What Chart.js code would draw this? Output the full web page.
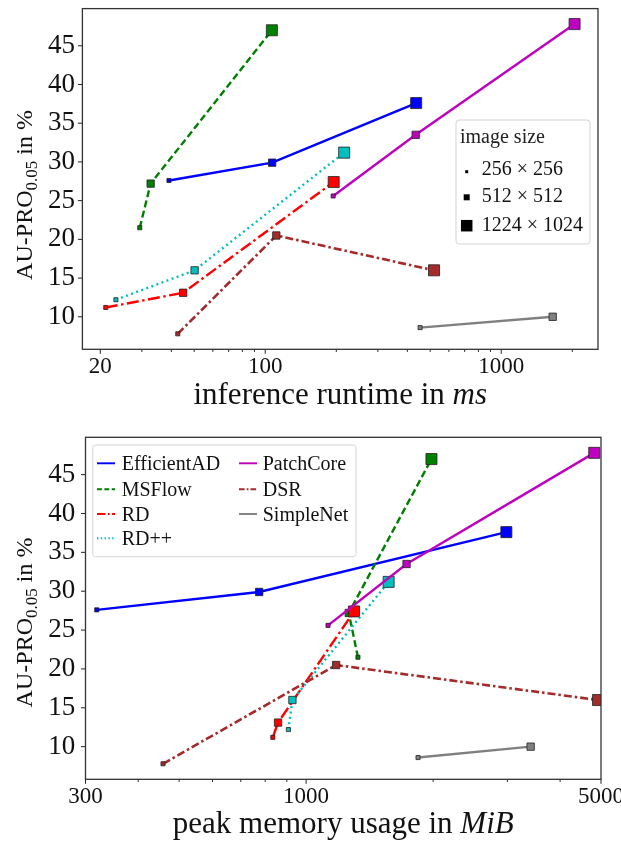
<!DOCTYPE html>
<html>
<head>
<meta charset="utf-8">
<script src="https://cdn.jsdelivr.net/npm/chart.js@4.4.1/dist/chart.umd.min.js"></script>
<style>
  body { margin: 0; background: #fff; }
  canvas { position: absolute; left: 0; }
  #runtimeChart { top: 0; }
  #memoryChart { top: 420px; }
</style>
</head>
<body>
<canvas id="runtimeChart" width="621" height="420"></canvas>
<canvas id="memoryChart" width="621" height="422"></canvas>
<script>
const methods = ["EfficientAD", "MSFlow", "RD", "RD++", "PatchCore", "DSR", "SimpleNet"];
const sizeLabels = ["256 × 256", "512 × 512", "1224 × 1024"];

// AU-PRO_0.05 in %, one entry per image size (256, 512, 1224x1024)
const proEfficientAD = [27.6, 29.9, 37.6];
const proMSFlow = [21.5, 27.2, 47.0];
const proRD = [11.2, 13.1, 27.4];
const proRDpp = [12.2, 16.0, 31.2];
const proPatchCore = [25.6, 33.5, 47.8];
const proDSR = [7.8, 20.5, 16.0];
const proSimpleNet = [8.6, 10.0];

// inference runtime in ms
const msEfficientAD = [39.1, 107, 436];
const msMSFlow = [29.4, 32.7, 106.7];
const msRD = [21.1, 44.9, 195];
const msRDpp = [23.3, 50.2, 216];
const msPatchCore = [194, 434, 2045];
const msDSR = [42.6, 111.4, 519];
const msSimpleNet = [453, 1652];

// peak memory usage in MiB
const mibEfficientAD = [319, 774, 2983];
const mibMSFlow = [1327, 1262, 1982];
const mibRD = [834, 858, 1299];
const mibRDpp = [908, 928, 1569];
const mibPatchCore = [1127, 1730, 4819];
const mibDSR = [458, 1178, 4920];
const mibSimpleNet = [1842, 3406];

const yTicks = [10, 15, 20, 25, 30, 35, 40, 45];
const runtimeTicks = [20, 100, 1000];
const memoryTicks = [300, 1000, 5000];

const proLists = [proEfficientAD, proMSFlow, proRD, proRDpp, proPatchCore, proDSR, proSimpleNet];
const runtimeLists = [msEfficientAD, msMSFlow, msRD, msRDpp, msPatchCore, msDSR, msSimpleNet];
const memoryLists = [mibEfficientAD, mibMSFlow, mibRD, mibRDpp, mibPatchCore, mibDSR, mibSimpleNet];

const SERIF = "'Liberation Serif', 'Times New Roman', serif";
const styles = [
  { color: "#0000ff", dash: [], width: 2.4 },
  { color: "#008000", dash: [7, 3.5], width: 2.4 },
  { color: "#ff0000", dash: [12, 3.5, 2.5, 3.5], width: 2.4 },
  { color: "#00bfbf", dash: [2, 3.4], width: 2.4 },
  { color: "#bf00bf", dash: [], width: 2.4 },
  { color: "#a52a2a", dash: [8, 3, 2.5, 3], width: 2.6 },
  { color: "#808080", dash: [], width: 2.4 }
];
const markerRadius = [2.9, 5.2, 7.8];

function minorTicks(min, max) {
  const out = [];
  for (let e = 0; e < 5; e++) {
    for (let m = 1; m < 10; m++) {
      const v = m * Math.pow(10, e);
      if (v > min && v < max) out.push(v);
    }
  }
  return out;
}

function buildDatasets(xLists) {
  return methods.map((name, i) => ({
    label: name,
    data: xLists[i].map((x, j) => ({ x: x, y: proLists[i][j] })),
    borderColor: styles[i].color,
    backgroundColor: styles[i].color,
    borderWidth: styles[i].width,
    borderDash: styles[i].dash,
    pointStyle: "rect",
    pointRadius: ctx => markerRadius[ctx.dataIndex],
    pointBackgroundColor: styles[i].color,
    pointBorderColor: "#222",
    pointBorderWidth: 0.8,
    tension: 0,
    fill: false,
    order: -i
  }));
}

function drawRich(ctx, parts, x, y) {
  let total = 0;
  parts.forEach(p => {
    ctx.font = (p.italic ? "italic " : "") + p.size + "px " + SERIF;
    p.w = ctx.measureText(p.text).width;
    total += p.w;
  });
  let cx = x - total / 2;
  parts.forEach(p => {
    ctx.font = (p.italic ? "italic " : "") + p.size + "px " + SERIF;
    ctx.fillText(p.text, cx, y + (p.dy || 0));
    cx += p.w;
  });
}

function legendBox(ctx, x, y, w, h) {
  ctx.beginPath();
  if (ctx.roundRect) ctx.roundRect(x, y, w, h, 3); else ctx.rect(x, y, w, h);
  ctx.fillStyle = "rgba(255,255,255,0.85)";
  ctx.fill();
  ctx.strokeStyle = "#d4d4d4";
  ctx.lineWidth = 1;
  ctx.stroke();
}

function sizeLegend(ctx) {
  legendBox(ctx, 456, 120, 134, 124);
  ctx.textAlign = "left";
  ctx.textBaseline = "alphabetic";
  ctx.font = "20px " + SERIF;
  ctx.fillStyle = "#222";
  ctx.fillText("image size", 460, 143);
  const centers = [171.7, 197.3, 225.7];
  const baselines = [175, 202.3, 230.7];
  const sides = [3, 6, 11.5];
  sizeLabels.forEach((t, i) => {
    ctx.fillStyle = "#000";
    ctx.fillRect(466.7 - sides[i] / 2, centers[i] - sides[i] / 2, sides[i], sides[i]);
    ctx.fillStyle = "#111";
    ctx.fillText(t, 481.7, baselines[i]);
  });
}

function methodLegend(ctx, chart) {
  legendBox(ctx, 92.7, 25, 263.3, 111.7);
  const rows = [43.3, 69.3, 94, 118.3];
  const lineX = [97, 239];
  const textX = [121.7, 262.7];
  ctx.textAlign = "left";
  ctx.textBaseline = "alphabetic";
  ctx.font = "20px " + SERIF;
  chart.data.datasets.forEach((ds, i) => {
    const col = i < 4 ? 0 : 1;
    const row = i < 4 ? i : i - 4;
    const y = rows[row];
    ctx.save();
    ctx.strokeStyle = ds.borderColor;
    ctx.lineWidth = ds.borderWidth * 0.8;
    ctx.setLineDash(ds.borderDash.map(d => d * 0.7));
    ctx.beginPath();
    ctx.moveTo(lineX[col], y);
    ctx.lineTo(lineX[col] + 18, y);
    ctx.stroke();
    ctx.restore();
    ctx.fillStyle = "#111";
    ctx.fillText(ds.label, textX[col], y + 6.7);
  });
}

const decor = {
  id: "decor",
  afterDraw(chart, args, o) {
    const ctx = chart.ctx;
    const a = chart.chartArea;
    const xs = chart.scales.x;
    const ys = chart.scales.y;
    ctx.save();
    ctx.strokeStyle = "#222";
    ctx.lineWidth = 1;
    ctx.beginPath();
    o.major.forEach(v => {
      const px = xs.getPixelForValue(v);
      ctx.moveTo(px, a.bottom); ctx.lineTo(px, a.bottom + 4.5);
    });
    minorTicks(xs.min, xs.max).filter(v => o.major.indexOf(v) < 0).forEach(v => {
      const px = xs.getPixelForValue(v);
      ctx.moveTo(px, a.bottom); ctx.lineTo(px, a.bottom + 2.6);
    });
    yTicks.forEach(v => {
      const py = ys.getPixelForValue(v);
      ctx.moveTo(a.left - 4.5, py); ctx.lineTo(a.left, py);
    });
    ctx.stroke();

    ctx.strokeStyle = "#333";
    ctx.lineWidth = 1.3;
    ctx.strokeRect(a.left, a.top, a.right - a.left, a.bottom - a.top);

    ctx.fillStyle = "#111";
    ctx.textBaseline = "alphabetic";
    ctx.textAlign = "left";
    drawRich(ctx, o.xTitle, (a.left + a.right) / 2, o.xTitleY);

    ctx.save();
    ctx.translate(31.5, o.yTitleY);
    ctx.rotate(-Math.PI / 2);
    drawRich(ctx, [
      { text: "AU-PRO", size: 24 },
      { text: "0.05", size: 17, dy: 5 },
      { text: " in %", size: 24 }
    ], 0, 0);
    ctx.restore();

    if (o.legend === "sizes") sizeLegend(ctx);
    else methodLegend(ctx, chart);
    ctx.restore();
  }
};

function makeChart(id, xLists, cfg) {
  new Chart(document.getElementById(id), {
    type: "line",
    data: { datasets: buildDatasets(xLists) },
    plugins: [decor],
    options: {
      responsive: false,
      animation: false,
      events: [],
      layout: { padding: { left: 0, right: cfg.padRight, top: cfg.padTop, bottom: 0 } },
      plugins: {
        legend: { display: false },
        tooltip: { enabled: false },
        decor: { major: cfg.ticks, xTitle: cfg.xTitle, xTitleY: cfg.xTitleY, yTitleY: cfg.yTitleY, legend: cfg.legend }
      },
      scales: {
        x: {
          type: "logarithmic",
          min: cfg.xMin,
          max: cfg.xMax,
          grid: { display: false, drawTicks: false },
          border: { display: false },
          ticks: {
            font: { family: SERIF, size: 23 },
            color: "#111",
            padding: 4,
            maxRotation: 0,
            autoSkip: false,
            callback: v => String(v)
          },
          afterBuildTicks: s => { s.ticks = cfg.ticks.map(v => ({ value: v })); },
          afterFit: s => { s.height = cfg.xHeight; s.paddingLeft = 0; s.paddingRight = 0; }
        },
        y: {
          type: "linear",
          min: 5.8,
          max: 49.8,
          grid: { display: false, drawTicks: false },
          border: { display: false },
          ticks: {
            font: { family: SERIF, size: 27 },
            color: "#111",
            padding: cfg.yPad,
            callback: v => String(v)
          },
          afterBuildTicks: s => { s.ticks = yTicks.map(v => ({ value: v })); },
          afterFit: s => { s.width = cfg.yWidth; s.paddingTop = 0; s.paddingBottom = 0; }
        }
      }
    }
  });
}

makeChart("runtimeChart", runtimeLists, {
  xMin: 16.8, xMax: 2570, ticks: runtimeTicks,
  padRight: 23, padTop: 7.3, xHeight: 70.7, yWidth: 82.4, yPad: 7.4,
  xTitle: [{ text: "inference runtime in ", size: 31 }, { text: "ms", size: 31, italic: true }],
  xTitleY: 404, yTitleY: 195, legend: "sizes"
});

makeChart("memoryChart", memoryLists, {
  xMin: 300, xMax: 5000, ticks: memoryTicks,
  padRight: 20, padTop: 17.3, xHeight: 62.7, yWidth: 85.5, yPad: 10.3,
  xTitle: [{ text: "peak memory usage in ", size: 31 }, { text: "MiB", size: 31, italic: true }],
  xTitleY: 412.7, yTitleY: 202.5, legend: "methods"
});
</script>
</body>
</html>
